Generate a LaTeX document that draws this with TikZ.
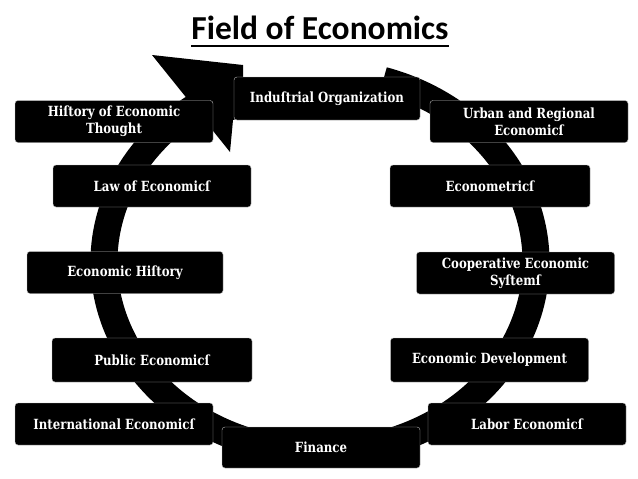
\documentclass[tikz,border=0pt]{standalone}
\usepackage{fontspec}
\setmainfont{Carlito}
\newfontfamily\fieldfam{DejaVu Serif}[FakeStretch=0.84]
\usetikzlibrary{positioning}
\newcommand{\fieldfont}{\fieldfam\bfseries\fontsize{14}{17}\selectfont}

\begin{document}
\begin{tikzpicture}[
  x=1pt,y=-1pt,
  field/.style={draw=gray!55,fill=black,rounded corners=3pt,text=white,align=center,
    minimum width=198pt,minimum height=42pt,inner sep=2pt,font=\fieldfont},
  ring/.style={line width=27pt}
]
  \useasboundingbox (0,0) rectangle (638,479);
  \node[inner sep=0pt,anchor=base,font=\fontsize{33.5}{38}\selectfont\bfseries] (title) at (320,39) {Field of Economics};
  \draw[line width=2.4pt] ([yshift=-7pt]title.base west) -- ([yshift=-7pt]title.base east);
  % ring with its head
  \draw[ring] (320,262) ++(-73:216 and 190) arc[start angle=-73,end angle=240,x radius=216,y radius=190];
  \fill (152,55) -- (243,65) -- (243,80) -- (300,100) -- (233,120) -- (230,152) -- cycle;
  % fields
  \node[field] (hist) at (114,121.5) {Hiſtory of Economic\\Thought};
  \node[field] (law) at (152,186) {Law of Economicſ};
  \node[field,minimum width=186pt,minimum height=43pt] (indorg) at (327,98.5) {Induſtrial Organization};
  \node[field] (urban) at (529,121.5) {Urban and Regional\\Economicſ};
  \node[field,minimum width=200pt] (econom) at (490,186) {Econometricſ};
  \node[field,minimum width=196pt] (echist) at (125,272.5) {Economic Hiſtory};
  \node[field] (coop) at (515.5,273) {Cooperative Economic\\Syſtemſ};
  \node[field,minimum width=200pt,minimum height=44pt] (public) at (152,360) {Public Economicſ};
  \node[field,minimum height=44pt] (ecodev) at (489.5,360) {Economic Development};
  \node[field] (intl) at (114,424) {International Economicſ};
  \node[field] (labor) at (527,424) {Labor Economicſ};
  \node[field,minimum height=41pt] (finance) at (321,447.5) {Finance};
\end{tikzpicture}
\end{document}
